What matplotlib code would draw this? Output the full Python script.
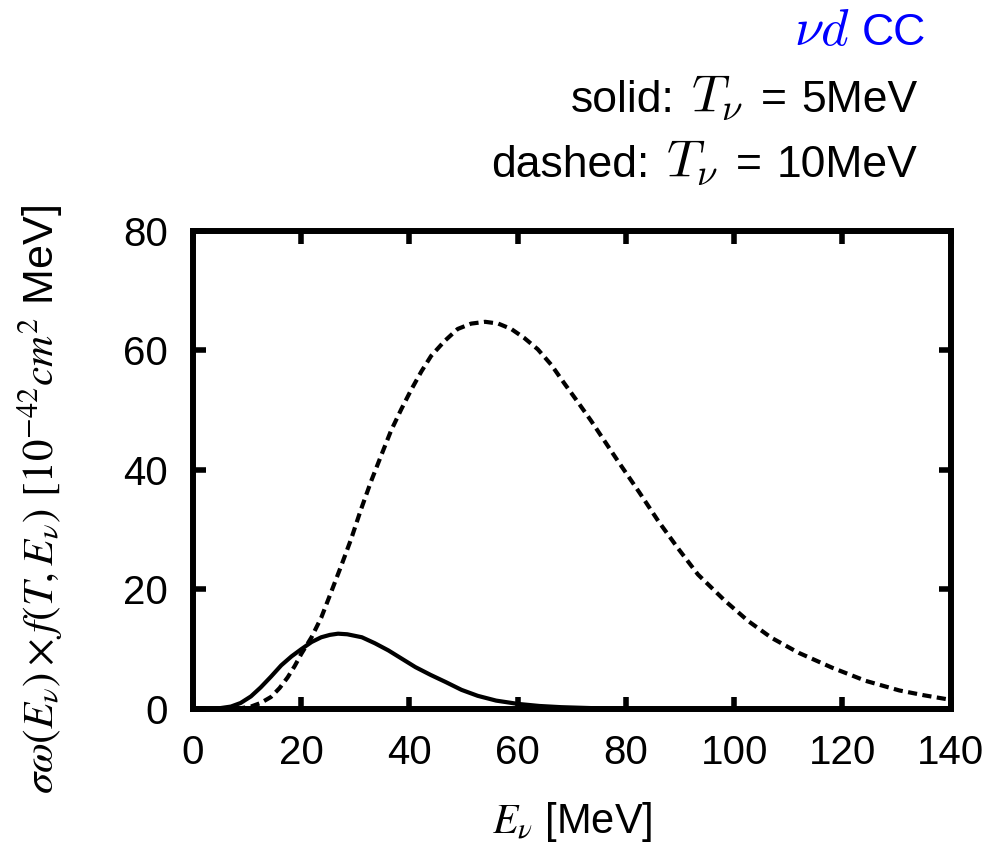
import numpy as np
import matplotlib
matplotlib.use("Agg")
import matplotlib.pyplot as plt

# --------------------------
# Data
# --------------------------
# solid: T_nu = 5 MeV
e_solid = [4.0, 5.1, 7.0, 8.8, 10.7, 12.5, 14.4, 16.3, 18.2, 20.0, 21.9, 23.7, 25.3,
           26.8, 28.5, 31.2, 33.6, 36.1, 38.6, 41.1, 43.9, 46.7, 49.6, 52.6, 56.0,
           60.0, 64.0, 68.0, 77.0, 90.0, 140.0]
v_solid = [0.0, 0.15, 0.4, 1.0, 2.1, 3.6, 5.4, 7.3, 8.8, 10.0, 11.2, 12.0, 12.4,
           12.6, 12.5, 12.0, 11.0, 9.8, 8.4, 7.0, 5.7, 4.5, 3.2, 2.2, 1.4,
           0.85, 0.5, 0.3, 0.05, 0.0, 0.0]

# dashed: T_nu = 10 MeV
e_dashed = [8.0, 10.7, 12.5, 14.4, 16.0, 17.5, 18.8, 20.0, 21.9, 23.7, 25.5, 27.4,
            29.2, 31.0, 32.9, 34.8, 36.6, 38.5, 40.3, 42.2, 44.0, 46.5, 48.9, 51.4,
            54.0, 56.4, 58.8, 61.2, 63.7, 66.2, 68.6, 71.0, 73.5, 76.0, 78.5,
            82.5, 86.0, 89.6, 93.3, 98.3, 102.6, 106.9, 111.9, 118.1, 124.3,
            130.5, 135.0, 139.5]
v_dashed = [0.0, 0.4, 1.0, 2.0, 3.5, 5.3, 7.2, 9.2, 12.0, 15.3, 19.5, 24.0,
            28.4, 33.3, 38.1, 42.5, 46.6, 50.2, 53.4, 56.5, 59.1, 61.6, 63.6, 64.5,
            64.8, 64.5, 63.6, 62.1, 60.2, 57.6, 54.5, 51.5, 48.3, 44.9, 41.5,
            36.2, 31.4, 26.9, 22.5, 18.1, 14.7, 11.9, 9.4, 6.9, 4.7,
            3.1, 2.3, 1.6]

x_ticks = [0, 20, 40, 60, 80, 100, 120, 140]
y_ticks = [0, 20, 40, 60, 80]

# --------------------------
# Plot
# --------------------------
plt.rcParams['font.family'] = ['Liberation Sans', 'DejaVu Sans']
plt.rcParams['mathtext.fontset'] = 'cm'

fig = plt.figure(figsize=(10.01, 8.44), dpi=100)
ax = fig.add_axes([0.1928, 0.160, 0.757, 0.5663])

ax.plot(e_solid, v_solid, color='black', linewidth=3, solid_joinstyle='round')
ax.plot(e_dashed, v_dashed, color='black', linewidth=3, dashes=(2.2, 1.3))

ax.set_xlim(0, 140)
ax.set_ylim(0, 80)
ax.set_xticks(x_ticks)
ax.set_yticks(y_ticks)

for side in ax.spines.values():
    side.set_linewidth(4.3)
ax.tick_params(direction='in', top=True, right=True, length=9, width=4,
               labelsize=29, pad=18)

ax.set_xlabel(r'$E_\nu$ [MeV]', fontsize=30, labelpad=20, math_fontfamily='stix')

# y label placed by hand, it sits a bit lower than the axes centre
fig.text(0.040, 0.408,
         r'$\sigma\omega(E_\nu)\times f(T,E_\nu)$ $[10^{-42} cm^2$ MeV]',
         fontsize=31, rotation=90, ha='center', va='center',
         math_fontfamily='stix')

# --------------------------
# Annotations above the frame: math parts are drawn larger than the text,
# so the pieces are laid out right to left, one after the other.
# Each piece is (string, fontsize, gap in px to the next piece on its right)
# --------------------------
renderer = fig.canvas.get_renderer()
W = fig.bbox.width


def text_chain(pieces, x_right, y, color='black'):
    x = x_right
    for s, size, gap in reversed(pieces):
        x -= gap
        t = fig.text(x / W, y, s, fontsize=size, color=color,
                     ha='right', va='baseline')
        x = t.get_window_extent(renderer).x0


text_chain([(r'$\nu d$', 38, 12), ('CC', 32, 0)], 926, 0.947, color='blue')
text_chain([('solid:', 32, 16), (r'$T_\nu$', 38, 18), ('=', 32, 14),
            ('5MeV', 32, 0)], 917, 0.867)
text_chain([('dashed:', 32, 16), (r'$T_\nu$', 38, 18), ('=', 32, 14),
            ('10MeV', 32, 0)], 917, 0.790)

fig.savefig('out.png', dpi=100)
